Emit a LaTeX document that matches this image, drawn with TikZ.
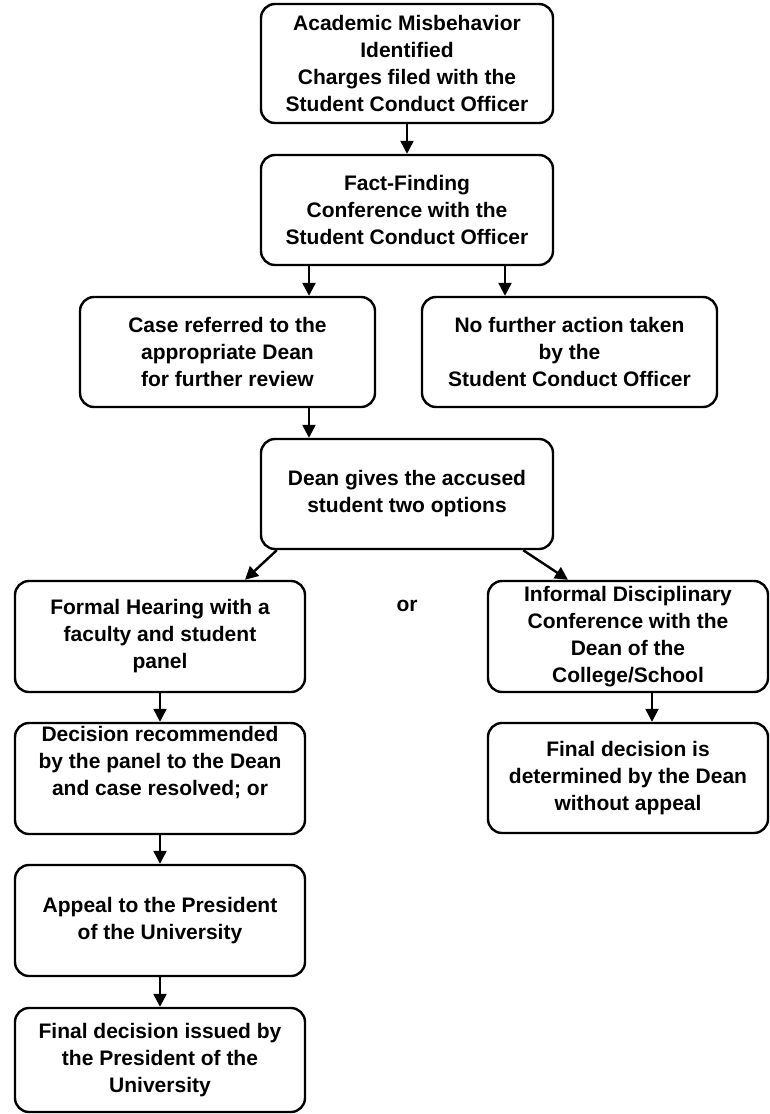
\documentclass[tikz,border=0pt]{standalone}
\usepackage{fontspec}
\setmainfont{Liberation Sans}
\usetikzlibrary{positioning,arrows.meta}

\begin{document}
\begin{tikzpicture}[x=1pt, y=1pt,
  box/.style={draw, line width=2.4pt, rounded corners=14pt, align=center,
    inner sep=0pt, minimum height=110pt,
    font=\bfseries\fontsize{21}{27}\selectfont},
  arr/.style={line width=2.4pt, -{Triangle[length=13pt,width=13pt]}}]
\useasboundingbox (0,0) rectangle (770,-1114);

\node[box, minimum width=292pt, minimum height=119pt] (top) at (407,-63.5)
  {Academic Misbehavior\\Identified\\Charges filed with the\\Student Conduct Officer};
\node[box, minimum width=292pt] (fact) at (407,-210)
  {Fact-Finding\\Conference with the\\Student Conduct Officer};
\node[box, minimum width=295pt] (case) at (227.5,-352)
  {Case referred to the\\appropriate Dean\\for further review};
\node[box, minimum width=295pt] (nofurther) at (569.5,-352)
  {No further action taken\\by the\\Student Conduct Officer};
\node[box, minimum width=292pt] (dean) at (407,-494)
  {Dean gives the accused\\student two options};
\node[box, minimum width=290pt, minimum height=111pt] (formal) at (160,-636.5)
  {Formal Hearing with a\\faculty and student\\panel};
\node[box, minimum width=280pt, minimum height=111pt] (informal) at (628,-636.5)
  {Informal Disciplinary\\Conference with the\\Dean of the\\College/School};
\node[font=\bfseries\fontsize{21}{27}\selectfont] (or) at (407,-606) {or};
\node[box, minimum width=290pt, minimum height=111pt] (decision) at (160,-778.5)
  {Decision recommended\\by the panel to the Dean\\and case resolved; or\\ \strut};
\node[box, minimum width=280pt] (finaldean) at (628,-778)
  {Final decision is\\determined by the Dean\\without appeal};
\node[box, minimum width=290pt, minimum height=111pt] (appeal) at (160,-920.5)
  {Appeal to the President\\of the University};
\node[box, minimum width=290pt, minimum height=104pt] (finalpres) at (160,-1060)
  {Final decision issued by\\the President of the\\University};

% connectors
\coordinate (fl) at ([xshift=-98pt]fact.south);
\coordinate (fr) at ([xshift=98pt]fact.south);
\draw[arr] (top) -- (fact);
\draw[arr] (fl) -- (fl |- case.north);
\draw[arr] (fr) -- (fr |- nofurther.north);
\draw[arr] (case.south -| fl) -- (dean.north -| fl);
\draw[arr] ([xshift=17pt]dean.south west) -- ([xshift=85pt]formal.north);
\draw[arr] ([xshift=-31pt]dean.south east) -- ([xshift=-60pt]informal.north);
\draw[arr] (formal) -- (decision);
\draw[arr] (decision) -- (appeal);
\draw[arr] (appeal) -- (finalpres);
\draw[arr] ([xshift=24pt]informal.south) -- ([xshift=24pt]informal.south |- finaldean.north);
\end{tikzpicture}
\end{document}
